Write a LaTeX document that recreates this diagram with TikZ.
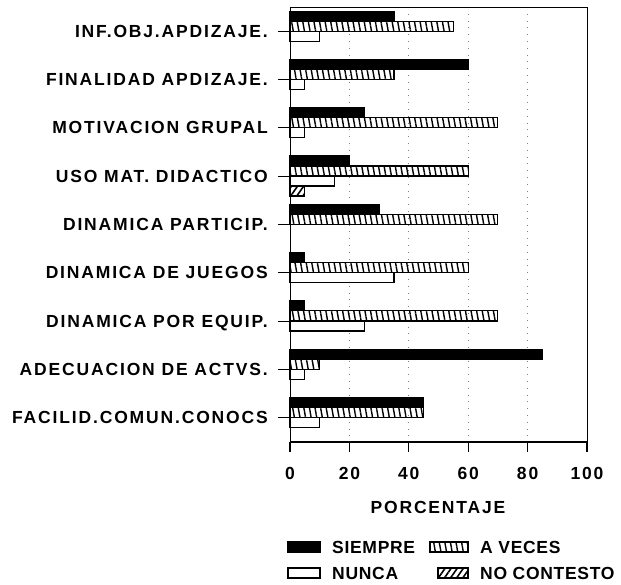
\documentclass[tikz,border=0pt]{standalone}
\usepackage{fontspec}
\setmainfont{Liberation Sans}[LetterSpace=10.5,UprightFont=*-Bold]
\newfontfamily\leyendafont{Liberation Sans}[LetterSpace=4,UprightFont=*-Bold]
\usetikzlibrary{patterns.meta}

\tikzset{
  siempre/.style={draw=black,fill=black,line width=1.1pt},
  aveces/.style={draw=black,line width=1.1pt,pattern={Lines[angle=100,distance=5.5pt,line width=1.4pt]}},
  nunca/.style={draw=black,fill=white,line width=1.1pt},
  nocontesto/.style={draw=black,line width=1.1pt,pattern={Lines[angle=55,distance=5pt,line width=1.6pt]}},
  texto/.style={inner sep=0pt,text height=12.5pt,text depth=0pt,font=\fontsize{17.5}{20}\selectfont},
  etiqueta/.style={texto,anchor=east},
  leyenda/.style={texto,anchor=west,font=\fontsize{17.5}{20}\selectfont\leyendafont},
  rejilla/.style={gray,line width=0.8pt,dash pattern=on 0.8pt off 6pt},
  marco/.style={line width=0.9pt},
  eje/.style={line width=1.3pt}
}

\begin{document}
\begin{tikzpicture}[x=1pt,y=-1pt]
\useasboundingbox (0,0) rectangle (621,585);

\foreach \g in {20,40,60,80}
  \draw[rejilla] ({290+2.97*\g},7) -- ({290+2.97*\g},442);
\draw[marco] (290,442) -- (290,7) -- (587,7) -- (587,442);
\draw[eje] (290,442) -- (587,442);

\foreach \i/\lbl/\sv/\av/\nv/\cv in {
    0/INF.OBJ.APDIZAJE./35/55/10/0,
    1/FINALIDAD APDIZAJE./60/35/5/0,
    2/MOTIVACION GRUPAL/25/70/5/0,
    3/USO MAT. DIDACTICO/20/60/15/5,
    4/DINAMICA PARTICIP./30/70/0/0,
    5/DINAMICA DE JUEGOS/5/60/35/0,
    6/DINAMICA POR EQUIP./5/70/25/0,
    7/ADECUACION DE ACTVS./85/10/5/0,
    8/FACILID.COMUN.CONOCS/45/45/10/0} {
  \pgfmathsetmacro\ytop{7+4.15+48.3*\i}
  \pgfmathsetmacro\ymid{7+24.15+48.3*\i}
  \node[etiqueta] (cat\i) at (268,\ymid) {\lbl};
  \draw[marco] (278,\ymid) -- (290,\ymid);
  \foreach \j/\v/\st in {0/\sv/siempre,1/\av/aveces,2/\nv/nunca,3/\cv/nocontesto} {
    \ifnum\v>0
      \draw[\st] (290,{\ytop+10*\j}) rectangle ({290+2.97*\v},{\ytop+10*\j+10});
    \fi
  }
}

\foreach \k in {0,20,40,60,80,100} {
  \draw[eje] ({290+2.97*\k},442) -- ({290+2.97*\k},452);
  \node[texto] (num\k) at ({290+2.97*\k},473) {\k};
}
\node[texto] (titulo) at (438,507) {PORCENTAJE};

\draw[siempre] (288,542) rectangle (320,552);
\node[leyenda] (leysiempre) at (332,547) {SIEMPRE};
\draw[aveces] (430,542) rectangle (468,552);
\node[leyenda] (leyaveces) at (480,547) {A VECES};
\draw[nunca] (288,568) rectangle (320,578);
\node[leyenda] (leynunca) at (332,573) {NUNCA};
\draw[nocontesto] (438,568) rectangle (468,578);
\node[leyenda] (leynocontesto) at (480,573) {NO CONTESTO};
\end{tikzpicture}
\end{document}
